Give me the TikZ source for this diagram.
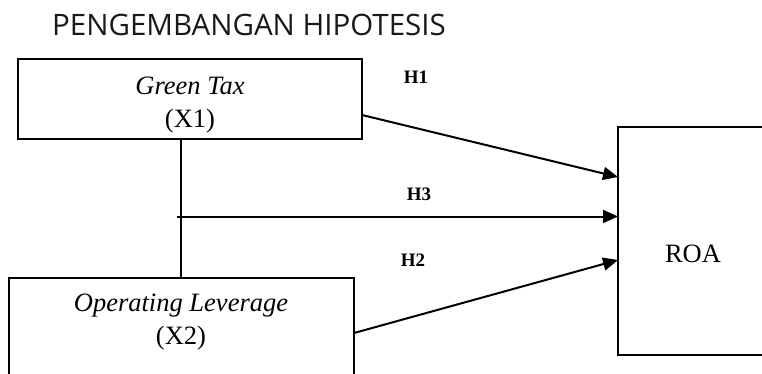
\documentclass[tikz,border=0pt]{standalone}
\usepackage{fontspec}
\setmainfont{Liberation Serif}
\newfontfamily\titlefont{Open Sans}
\usetikzlibrary{arrows.meta,calc}
\tikzset{
  boxnode/.style={draw=black, line width=1.4pt, rectangle, inner sep=0pt, outer sep=0pt},
  txt/.style={inner sep=0pt, outer sep=0pt, anchor=base, font=\fontsize{26.5}{30}\selectfont},
  itxt/.style={txt, font=\fontsize{26.5}{30}\selectfont\itshape},
  hlab/.style={inner sep=0pt, anchor=base, font=\fontsize{19}{22}\selectfont\bfseries},
  arr/.style={line width=2pt, -{Triangle[length=15pt,width=13pt]}},
  plain/.style={line width=2pt}
}
\begin{document}
\begin{tikzpicture}[x=1pt,y=-1pt]
\useasboundingbox (0,0) rectangle (762,373);
\clip (0,0) rectangle (762,373);
\node[anchor=base west, inner sep=0pt, font=\titlefont\fontsize{29.5}{32}\selectfont, text=black!90] (title) at (52,35) {PENGEMBANGAN HIPOTESIS};
% boxes
\node[boxnode, minimum width=344pt, minimum height=80pt] (gt) at (190,99) {};
\node[boxnode, minimum width=345pt, minimum height=140pt] (x2) at (181.5,348) {};
\node[boxnode, minimum width=200pt, minimum height=228pt] (roa) at (718,241) {};
% texts
\node[itxt] (gtt) at (190,94) {Green Tax};
\node[txt] (gtx) at (190,127) {(X1)};
\node[itxt] (x2t) at (181,311.5) {Operating Leverage};
\node[txt] (x2x) at (181,344) {(X2)};
\node[txt] (roat) at (693,262.5) {ROA};
\node[hlab] (h1) at (416,83) {H1};
\node[hlab] (h3) at (419,200.5) {H3};
\node[hlab] (h2) at (413,266.5) {H2};
% connectors
\coordinate (vx) at (181,0);
\coordinate (hs) at (177,216.5);
\draw[plain] (gt.south -| vx) -- (x2.north -| vx);
\draw[arr] ($(gt.north east)+(0,56)$) -- ($(roa.north west)+(0,50)$);
\draw[arr] (hs) -- ($(roa.north west)+(0,89.5)$);
\draw[arr] ($(x2.north east)+(0,55)$) -- ($(roa.north west)+(0,133)$);
\end{tikzpicture}
\end{document}
